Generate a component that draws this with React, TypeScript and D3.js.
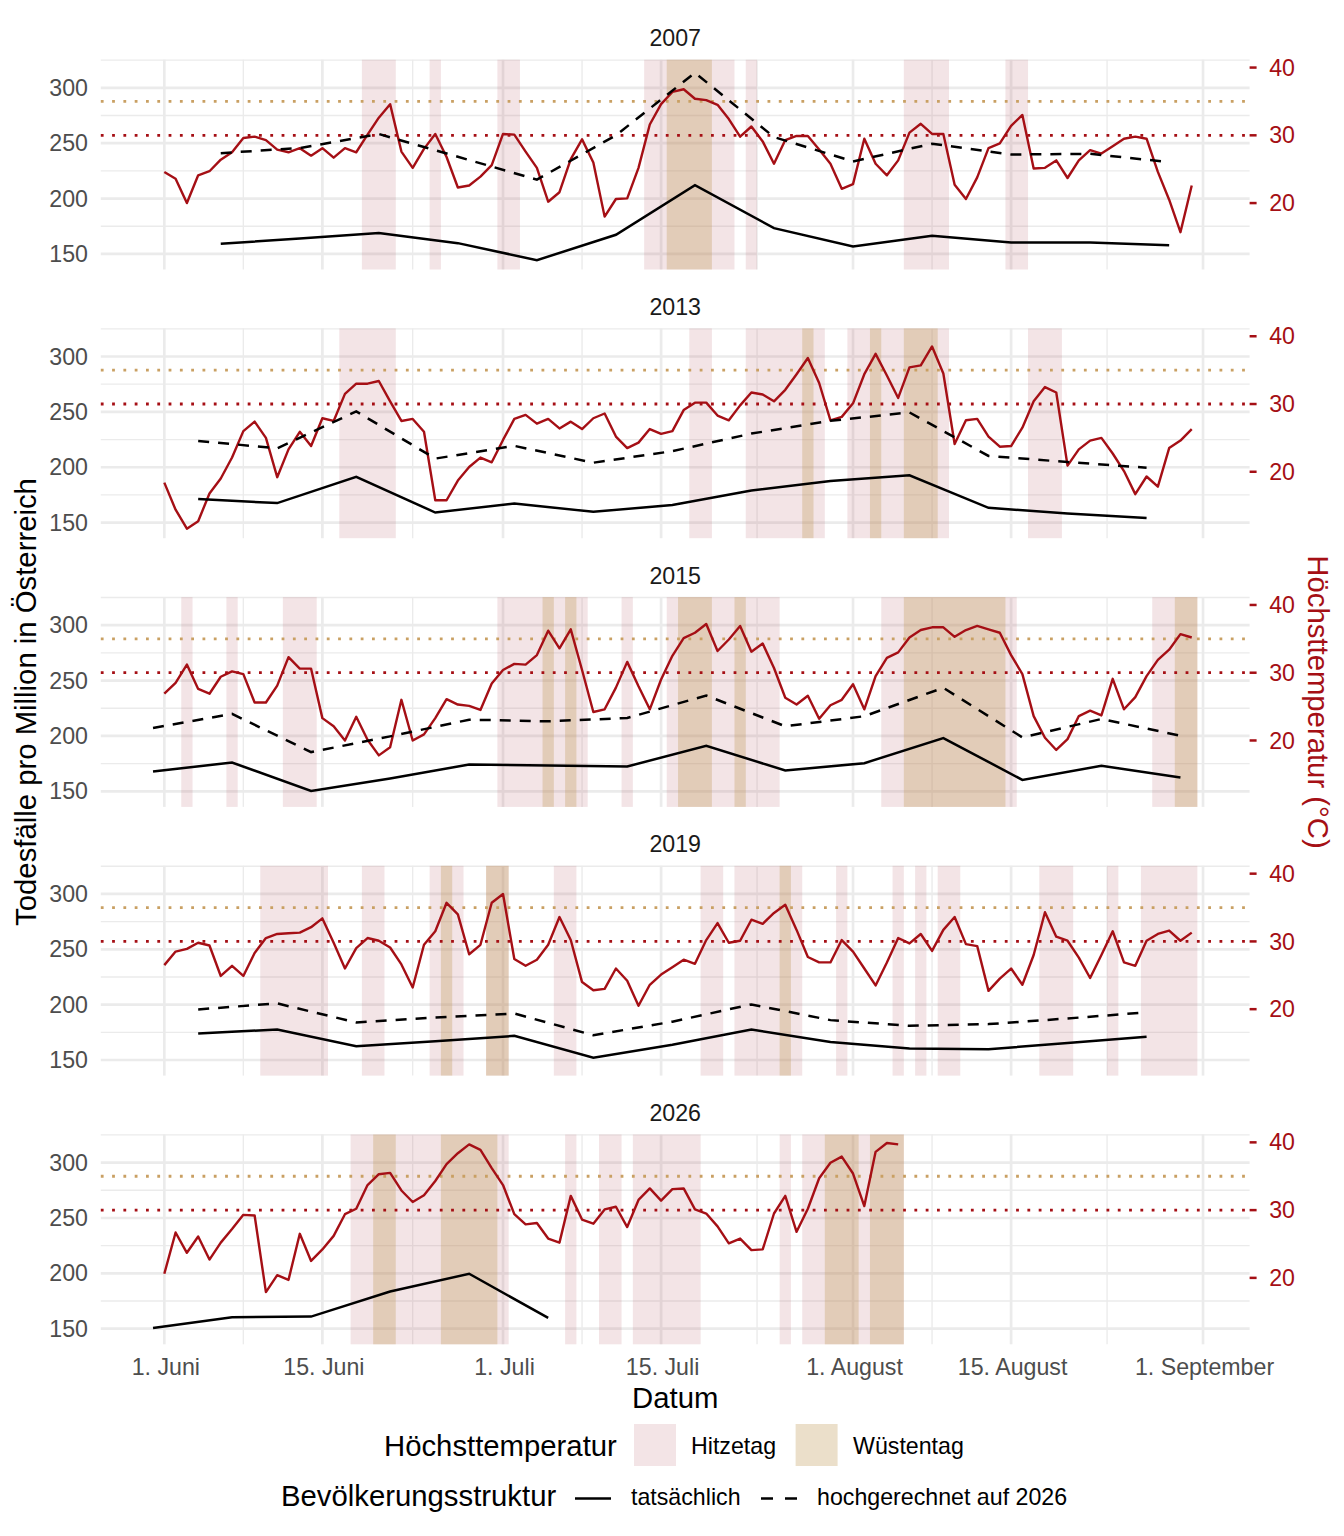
import React, { useRef, useEffect } from 'react';
import * as d3 from 'd3';

// facets
const years = ['2007', '2013', '2015', '2019', '2026'];

// daily maximum temperature (°C), starting 1 June
const temp2007 = [24.6, 23.6, 20.0, 24.1, 24.7, 26.4, 27.5, 29.6, 29.8, 29.3, 27.9, 27.5, 28.1, 27.0, 28.1, 26.7, 28.1, 27.5, 30.1, 32.6,
  34.6, 27.6, 25.2, 28.0, 30.2, 26.8, 22.3, 22.6, 23.9, 25.6, 30.2, 30.1, 27.6, 25.2, 20.2, 21.6, 26.5, 29.4, 26.0, 18.0,
  20.6, 20.7, 25.2, 31.6, 34.6, 36.4, 36.8, 35.4, 35.2, 34.5, 32.4, 29.8, 31.3, 29.1, 25.8, 29.3, 29.9, 29.9, 27.9, 25.8,
  22.1, 22.8, 29.5, 25.8, 24.1, 26.3, 30.4, 31.7, 30.2, 30.2, 22.7, 20.6, 23.8, 28.1, 28.8, 31.4, 33.0, 25.1, 25.2, 26.3,
  23.7, 26.3, 27.8, 27.3, 28.4, 29.5, 29.8, 29.5, 24.6, 20.5, 15.7, 22.6];
const temp2013 = [18.4, 14.4, 11.6, 12.7, 16.8, 19.0, 22.1, 26.0, 27.4, 25.0, 19.2, 23.3, 25.9, 23.8, 27.9, 27.5, 31.5, 33.0, 33.0, 33.4,
  30.4, 27.5, 27.8, 25.9, 15.8, 15.8, 18.7, 20.7, 22.1, 21.4, 24.7, 27.8, 28.4, 27.1, 27.8, 26.4, 27.4, 26.3, 27.9, 28.6,
  25.2, 23.5, 24.3, 26.3, 25.6, 26.0, 29.1, 30.2, 30.2, 28.3, 27.6, 29.8, 31.7, 31.4, 30.4, 32.1, 34.4, 36.8, 33.1, 27.6,
  28.1, 30.1, 34.4, 37.4, 34.2, 30.9, 35.4, 35.7, 38.5, 34.5, 24.1, 27.6, 27.8, 25.2, 23.7, 23.8, 26.5, 30.4, 32.5, 31.7,
  20.9, 23.3, 24.6, 25.0, 22.7, 20.1, 16.7, 19.3, 17.8, 23.5, 24.6, 26.3];
const temp2015 = [26.9, 28.5, 31.2, 27.6, 26.9, 29.4, 30.2, 29.8, 25.6, 25.6, 28.1, 32.3, 30.6, 30.6, 23.3, 22.1, 20.0, 23.5, 20.1, 17.8,
  19.0, 26.0, 20.0, 20.9, 23.3, 26.1, 25.3, 25.1, 24.5, 28.4, 30.4, 31.3, 31.2, 32.6, 36.2, 33.6, 36.4, 30.4, 24.2, 24.6,
  27.8, 31.6, 28.0, 24.6, 29.0, 32.5, 35.1, 35.9, 37.2, 33.2, 34.9, 36.9, 33.1, 34.3, 30.7, 26.3, 25.3, 26.6, 23.2, 25.2,
  26.0, 28.3, 24.6, 29.5, 32.2, 33.0, 35.2, 36.3, 36.7, 36.7, 35.3, 36.3, 36.9, 36.4, 35.9, 32.6, 29.8, 23.6, 20.4, 18.6,
  20.2, 23.6, 24.4, 23.7, 29.1, 24.6, 26.4, 29.5, 31.9, 33.4, 35.7, 35.2];
const temp2019 = [26.5, 28.5, 28.9, 29.8, 29.4, 24.9, 26.4, 24.9, 28.3, 30.5, 31.1, 31.2, 31.3, 32.1, 33.4, 29.8, 26.0, 29.0, 30.5, 30.1,
  29.1, 26.6, 23.2, 29.5, 31.5, 35.7, 34.0, 28.1, 29.5, 35.7, 37.0, 27.4, 26.4, 27.3, 29.5, 33.6, 30.2, 24.0, 22.8, 23.0,
  26.0, 24.2, 20.5, 23.6, 25.1, 26.2, 27.3, 26.7, 30.2, 32.7, 29.8, 30.1, 33.2, 32.6, 34.2, 35.4, 31.7, 27.7, 26.9, 26.9,
  30.2, 28.5, 26.0, 23.5, 26.9, 30.5, 29.7, 31.1, 28.6, 31.7, 33.6, 29.6, 29.3, 22.7, 24.5, 26.0, 23.6, 28.0, 34.3, 30.7,
  30.1, 27.6, 24.6, 28.0, 31.5, 26.9, 26.4, 30.1, 31.1, 31.6, 30.1, 31.3];
const temp2026 = [20.6, 26.7, 23.7, 26.1, 22.7, 25.2, 27.2, 29.3, 29.2, 17.9, 20.4, 19.7, 26.5, 22.5, 24.2, 26.2, 29.4, 30.2, 33.7, 35.3,
  35.5, 32.9, 31.2, 32.2, 34.3, 36.8, 38.4, 39.7, 38.9, 36.2, 33.7, 29.4, 27.9, 28.1, 25.8, 25.2, 32.1, 28.6, 28.0, 30.1,
  30.5, 27.5, 31.5, 33.2, 31.4, 33.1, 33.2, 30.1, 29.5, 27.6, 25.1, 25.8, 24.1, 24.2, 29.5, 32.1, 26.8, 30.2, 34.7, 37.0,
  37.9, 35.4, 30.6, 38.6, 39.9, 39.7];
const temps = [temp2007, temp2013, temp2015, temp2019, temp2026];

// weekly deaths per million; first value at this day offset from 1 June
const weekStart = [5, 3, -1, 3, -1];
const actual2007 = [159.1, 163.9, 168.8, 159.7, 144.3, 167.3, 212.1, 173.3, 156.7, 166.3, 160.3, 160.3, 157.9];
const projected2007 = [241.0, 245.6, 258.3, 237.7, 217.1, 257.1, 313.6, 255.5, 233.5, 249.5, 239.8, 240.4, 232.9];
const actual2013 = [171.2, 167.6, 191.4, 159.1, 167.3, 159.7, 165.9, 179.0, 187.5, 192.7, 163.3, 158.2, 154.2];
const projected2013 = [223.8, 217.1, 250.4, 207.8, 219.3, 204.1, 214.5, 230.4, 241.9, 249.5, 210.2, 204.7, 199.6];
const actual2015 = [167.9, 176.0, 150.3, 161.5, 174.2, 173.3, 172.4, 191.1, 168.8, 175.4, 198.1, 160.3, 173.0, 162.4];
const projected2015 = [207.2, 219.9, 185.4, 199.6, 214.7, 213.2, 216.2, 236.5, 208.7, 217.8, 243.5, 198.7, 215.3, 200.2];
const actual2019 = [173.9, 177.5, 162.4, 166.9, 171.8, 152.1, 163.8, 177.5, 166.3, 160.3, 159.7, 165.4, 170.9];
const projected2019 = [195.7, 201.1, 183.9, 188.4, 192.0, 172.4, 184.6, 200.2, 186.0, 180.9, 182.4, 187.5, 193.0];
const actual2026 = [150.6, 160.3, 160.9, 183.6, 199.6, 159.7];
const actuals = [actual2007, actual2013, actual2015, actual2019, actual2026];
const projections = [projected2007, projected2013, projected2015, projected2019, []];

// axes
const tickDates = ['2026-06-01', '2026-06-15', '2026-07-01', '2026-07-15', '2026-08-01', '2026-08-15', '2026-09-01'];
const tickLabels = ['1. Juni', '15. Juni', '1. Juli', '15. Juli', '1. August', '15. August', '1. September'];
const deathTicks = [150, 200, 250, 300];
const tempTicks = [20, 30, 40];
const HOT = 30;
const DESERT = 35;

const RED = '#A50F15';
const GOLD = '#C9A063';
const GRID = '#EBEBEB';
const PINK = 'rgb(175,75,88)';
const TAN = 'rgb(188,148,78)';
const FONT = '"Liberation Sans", Arial, sans-serif';

const App = () => {
  const svgRef = useRef(null);
  const width = 1344;
  const height = 1536;
  const left = 100.8;
  const right = 1249.6;
  const firstTop = 59.7;
  const panelH = 209.8;
  const step = 268.7;
  const tickSize = 23.2;
  const titleSize = 29.3;

  useEffect(() => {
    const svg = d3.select(svgRef.current);
    svg.selectAll('*').remove();

    const parse = d3.timeParse('%Y-%m-%d');
    const jun1 = parse('2026-06-01') as Date;
    const atDay = (d: number) => new Date(jun1.getTime() + d * 864e5);

    const x = d3.scaleTime()
      .domain([atDay(-5.625), atDay(96.125)])
      .range([left, right]);

    const majorX = tickDates.map(d => parse(d) as Date);
    const minorX = d3.pairs(majorX).map(([a, b]) => new Date((a.getTime() + b.getTime()) / 2));

    // secondary axis: deaths = 257.1 + 6.12 * (temp - 30)
    const deathDomain = [135.9, 325.4];
    const tempDomain = deathDomain.map(v => 30 + (v - 257.1) / 6.12);

    const minorY = Array.from(new Set(deathTicks.flatMap(t => [t - 25, t + 25])))
      .filter(v => v >= deathDomain[0] && v <= deathDomain[1]);

    // consecutive day runs at or above a threshold
    const runs = (vals: number[], th: number) => {
      const out: [number, number][] = [];
      let s = -1;
      vals.forEach((v, i) => {
        if (v >= th && s < 0) s = i;
        if ((v < th || i === vals.length - 1) && s >= 0) {
          out.push([s, v >= th ? i : i - 1]);
          s = -1;
        }
      });
      return out;
    };

    years.forEach((year, i) => {
      const top = firstTop + i * step;
      const bottom = top + panelH;
      const yL = d3.scaleLinear().domain(deathDomain).range([bottom, top]);
      const yT = d3.scaleLinear().domain(tempDomain).range([bottom, top]);
      const g = svg.append('g');

      // grid
      g.selectAll('.minx').data(minorX).enter().append('line')
        .attr('x1', d => x(d)).attr('x2', d => x(d))
        .attr('y1', top).attr('y2', bottom)
        .attr('stroke', GRID).attr('stroke-width', 1.35);
      g.selectAll('.miny').data(minorY).enter().append('line')
        .attr('x1', left).attr('x2', right)
        .attr('y1', d => yL(d)).attr('y2', d => yL(d))
        .attr('stroke', GRID).attr('stroke-width', 1.35);
      g.selectAll('.majx').data(majorX).enter().append('line')
        .attr('x1', d => x(d)).attr('x2', d => x(d))
        .attr('y1', top).attr('y2', bottom)
        .attr('stroke', GRID).attr('stroke-width', 2.7);
      g.selectAll('.majy').data(deathTicks).enter().append('line')
        .attr('x1', left).attr('x2', right)
        .attr('y1', d => yL(d)).attr('y2', d => yL(d))
        .attr('stroke', GRID).attr('stroke-width', 2.7);

      // hot / desert day bands
      const bands = [
        { th: HOT, fill: PINK, op: 0.15 },
        { th: DESERT, fill: TAN, op: 0.3 },
      ];
      bands.forEach(b => {
        g.selectAll(null).data(runs(temps[i], b.th)).enter().append('rect')
          .attr('x', d => x(atDay(d[0] - 0.5)))
          .attr('width', d => x(atDay(d[1] + 0.5)) - x(atDay(d[0] - 0.5)))
          .attr('y', top).attr('height', panelH)
          .attr('fill', b.fill).attr('fill-opacity', b.op);
      });

      // threshold lines
      [{ t: DESERT, c: GOLD }, { t: HOT, c: RED }].forEach(r => {
        g.append('line')
          .attr('x1', left).attr('x2', right)
          .attr('y1', yT(r.t)).attr('y2', yT(r.t))
          .attr('stroke', r.c).attr('stroke-width', 2.8)
          .attr('stroke-dasharray', '2.8,8.5');
      });

      // temperature
      const tLine = d3.line<number>()
        .x((_, k) => x(atDay(k)))
        .y(v => yT(v));
      g.append('path').attr('d', tLine(temps[i]))
        .attr('fill', 'none').attr('stroke', RED).attr('stroke-width', 2.4)
        .attr('stroke-linejoin', 'round');

      // deaths
      const dLine = d3.line<number>()
        .x((_, k) => x(atDay(weekStart[i] + 7 * k)))
        .y(v => yL(v));
      if (projections[i].length) {
        g.append('path').attr('d', dLine(projections[i]))
          .attr('fill', 'none').attr('stroke', '#000').attr('stroke-width', 2.5)
          .attr('stroke-dasharray', '11,9');
      }
      g.append('path').attr('d', dLine(actuals[i]))
        .attr('fill', 'none').attr('stroke', '#000').attr('stroke-width', 2.5);

      // strip
      g.append('text').text(year)
        .attr('x', (left + right) / 2).attr('y', top - 13.5)
        .attr('text-anchor', 'middle').attr('font-size', tickSize).attr('fill', '#1A1A1A');

      // left axis
      g.selectAll('.yl').data(deathTicks).enter().append('text')
        .text(d => d)
        .attr('x', 88).attr('y', d => yL(d)).attr('dy', '0.35em')
        .attr('text-anchor', 'end').attr('font-size', tickSize).attr('fill', '#4D4D4D');

      // right axis
      g.selectAll('.tt').data(tempTicks).enter().append('line')
        .attr('x1', right).attr('x2', right + 7)
        .attr('y1', d => yT(d)).attr('y2', d => yT(d))
        .attr('stroke', RED).attr('stroke-width', 2.5);
      g.selectAll('.yr').data(tempTicks).enter().append('text')
        .text(d => d)
        .attr('x', right + 19.6).attr('y', d => yT(d)).attr('dy', '0.35em')
        .attr('font-size', tickSize).attr('fill', RED);

      if (i === years.length - 1) {
        g.selectAll('.xl').data(majorX).enter().append('text')
          .text((_, k) => tickLabels[k])
          .attr('x', d => x(d) + 1.5).attr('y', bottom + 30.5)
          .attr('text-anchor', 'middle').attr('font-size', tickSize).attr('fill', '#4D4D4D');
      }
    });

    const mid = (firstTop + (firstTop + 4 * step + panelH)) / 2;

    // axis titles
    svg.append('text').text('Datum')
      .attr('x', (left + right) / 2).attr('y', 1408)
      .attr('text-anchor', 'middle').attr('font-size', titleSize);
    svg.append('text').text('Todesfälle pro Million in Österreich')
      .attr('transform', `translate(36,${mid}) rotate(-90)`)
      .attr('text-anchor', 'middle').attr('font-size', titleSize);
    svg.append('text').text('Höchsttemperatur (°C)')
      .attr('transform', `translate(1308,${mid}) rotate(90)`)
      .attr('text-anchor', 'middle').attr('font-size', titleSize).attr('fill', RED);

    // legend: temperature
    const leg = svg.append('g');
    leg.append('text').text('Höchsttemperatur')
      .attr('x', 384).attr('y', 1455.5).attr('font-size', titleSize);
    leg.append('rect').attr('x', 634).attr('y', 1424).attr('width', 42).attr('height', 42)
      .attr('fill', PINK).attr('fill-opacity', 0.15);
    leg.append('text').text('Hitzetag')
      .attr('x', 691).attr('y', 1453.5).attr('font-size', tickSize);
    leg.append('rect').attr('x', 795.6).attr('y', 1424).attr('width', 42).attr('height', 42)
      .attr('fill', TAN).attr('fill-opacity', 0.3);
    leg.append('text').text('Wüstentag')
      .attr('x', 853).attr('y', 1453.5).attr('font-size', tickSize);

    // legend: population structure
    leg.append('text').text('Bevölkerungsstruktur')
      .attr('x', 281).attr('y', 1506).attr('font-size', titleSize);
    leg.append('line').attr('x1', 575).attr('x2', 611).attr('y1', 1498.5).attr('y2', 1498.5)
      .attr('stroke', '#000').attr('stroke-width', 2.5);
    leg.append('text').text('tatsächlich')
      .attr('x', 631).attr('y', 1504.5).attr('font-size', tickSize);
    leg.append('line').attr('x1', 761).attr('x2', 797).attr('y1', 1498.5).attr('y2', 1498.5)
      .attr('stroke', '#000').attr('stroke-width', 2.5).attr('stroke-dasharray', '12,12');
    leg.append('text').text('hochgerechnet auf 2026')
      .attr('x', 817).attr('y', 1504.5).attr('font-size', tickSize);
  }, []);

  return (
    <svg
      ref={svgRef}
      width={width}
      height={height}
      style={{ position: 'absolute', left: 0, top: 0, background: '#fff', fontFamily: FONT }}
    ></svg>
  );
};

export default App;
